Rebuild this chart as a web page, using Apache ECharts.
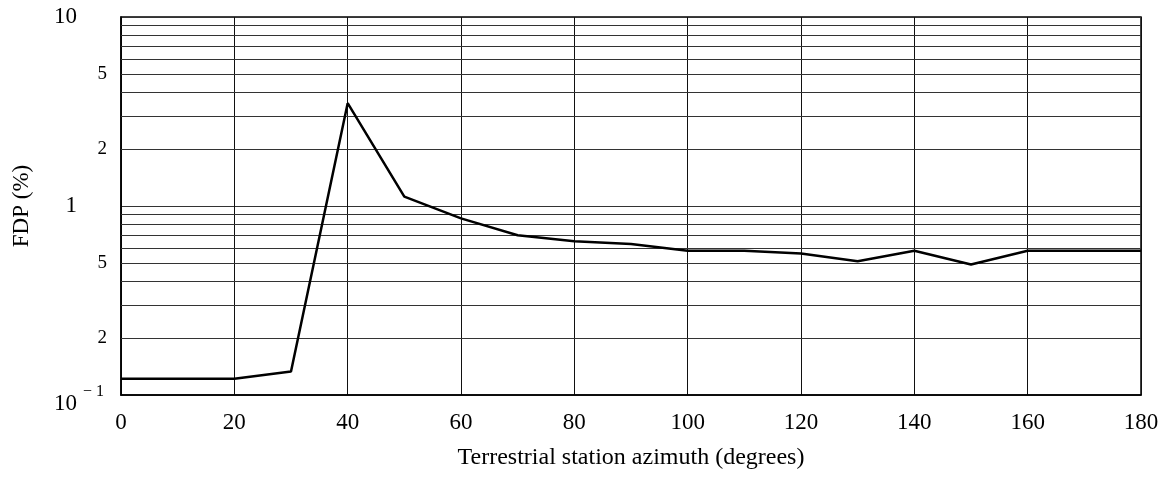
<!DOCTYPE html>
<html>
<head>
<meta charset="utf-8">
<script src="https://cdn.jsdelivr.net/npm/echarts@6/dist/echarts.min.js"></script>
<style>
html,body{margin:0;padding:0;background:#fff;}
#chart{width:1168px;height:477px;}
</style>
</head>
<body>
<div id="chart"></div>
<script>
// Data
var azimuth = [0, 20, 30, 40, 50, 60, 70, 80, 90, 100, 110, 120, 130, 140, 150, 160, 170, 180];
var fdp = [0.122, 0.122, 0.133, 3.5, 1.12, 0.86, 0.70, 0.65, 0.63, 0.58, 0.58, 0.56, 0.51, 0.58, 0.49, 0.58, 0.58, 0.58];
// Intermediate log grid lines and the ones that carry a label
var minorGrid = [0.2, 0.3, 0.4, 0.5, 0.6, 0.7, 0.8, 0.9, 2, 3, 4, 5, 6, 7, 8, 9];
var minorLabels = {0.2: '2', 0.5: '5', 2: '2', 5: '5'};

var FONT = '"Liberation Serif", "Times New Roman", serif';
var FS = 23;

var chart = echarts.init(document.getElementById('chart'), null, {renderer: 'canvas'});

var seriesData = azimuth.map(function (a, i) { return [a, fdp[i]]; });

var markData = minorGrid.map(function (v) {
  var item = { yAxis: v };
  if (minorLabels[v] !== undefined) {
    item.label = {
      show: true, position: 'start', formatter: minorLabels[v],
      distance: 14, color: '#000', fontFamily: FONT, fontSize: 19,
      padding: [9, 0, 0, 0]
    };
  } else {
    item.label = { show: false };
  }
  return item;
});

chart.setOption({
  animation: false,
  backgroundColor: '#fff',
  grid: {
    left: 121, right: 27, top: 17, bottom: 82,
    show: true, borderColor: '#000', borderWidth: 1.5, backgroundColor: 'transparent'
  },
  xAxis: {
    type: 'value', min: 0, max: 180, interval: 20,
    name: 'Terrestrial station azimuth (degrees)',
    nameLocation: 'middle', nameGap: 51,
    nameTextStyle: { fontFamily: FONT, fontSize: 24, color: '#000' },
    axisLine: { show: true, lineStyle: { color: '#000', width: 1.5 } },
    axisTick: { show: false },
    axisLabel: { margin: 16, fontFamily: FONT, fontSize: FS, color: '#000' },
    splitLine: { show: true, lineStyle: { color: '#111', width: 1 } }
  },
  yAxis: {
    type: 'log', logBase: 10, min: 0.1, max: 10,
    name: 'FDP (%)', nameLocation: 'middle', nameGap: 88, nameRotate: 90,
    nameTextStyle: { fontFamily: FONT, fontSize: 23, color: '#000' },
    axisLine: { show: true, lineStyle: { color: '#000', width: 1.5 } },
    axisTick: { show: false },
    axisLabel: {
      margin: 17, color: '#000', fontFamily: FONT, fontSize: FS,
      formatter: function (v) {
        if (Math.abs(v - 0.1) < 1e-9) return '{b0|10}{s|− 1}';
        if (Math.abs(v - 1) < 1e-9) return '{b|1}{p|}';
        return '{b|10}{p|}';
      },
      rich: {
        b: { fontFamily: FONT, fontSize: FS, color: '#000' },
        b0: { fontFamily: FONT, fontSize: FS, color: '#000', lineHeight: 23, padding: [18, 0, 0, 0] },
        s: { fontFamily: FONT, fontSize: 16, color: '#000', lineHeight: 16, padding: [0, 0, 6, 6] },
        p: { width: 27 }
      }
    },
    splitLine: { show: true, lineStyle: { color: '#333', width: 1 } }
  },
  series: [{
    type: 'line',
    data: seriesData,
    symbol: 'none',
    lineStyle: { color: '#000', width: 2.5 },
    z: 5,
    markLine: {
      silent: true,
      symbol: ['none', 'none'],
      animation: false,
      lineStyle: { color: '#333', width: 1, type: 'solid' },
      label: { show: false },
      emphasis: { disabled: true },
      data: markData
    }
  }]
});
</script>
</body>
</html>
